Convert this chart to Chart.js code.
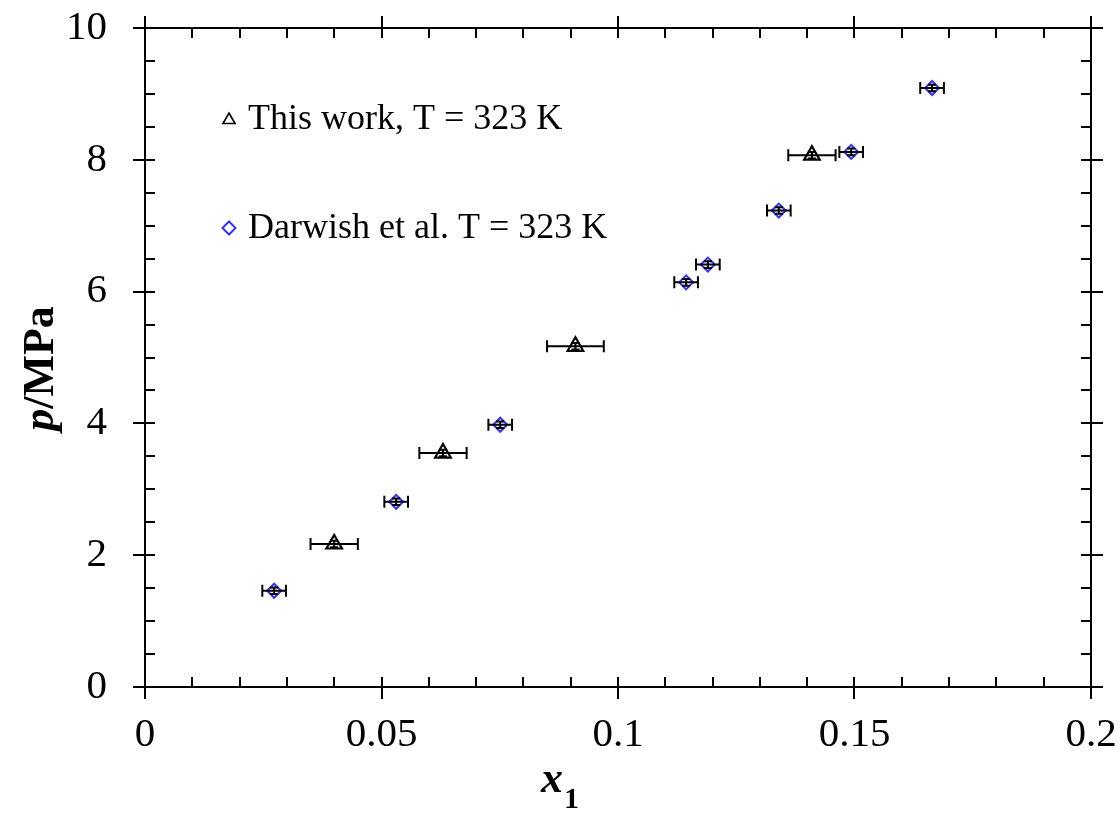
<!DOCTYPE html>
<html>
<head>
<meta charset="utf-8">
<title>p vs x1</title>
<script src="https://cdn.jsdelivr.net/npm/chart.js@4.4.1/dist/chart.umd.min.js"></script>
<style>
  body { margin: 0; background: #ffffff; }
  #chart-div { width: 1120px; height: 816px; }
</style>
</head>
<body>
<div id="chart-div"><canvas id="myChart" width="1120" height="816"></canvas></div>
<script>
// Data
const thisWorkX = [0.0400, 0.0630, 0.0910, 0.1410]
const thisWorkP = [2.17, 3.55, 5.17, 8.07]
const thisWorkXErr = [0.005, 0.005, 0.006, 0.005]
const thisWorkPErr = [0.05, 0.05, 0.05, 0.05]

const darwishX = [0.0273, 0.0531, 0.0751, 0.1144, 0.1190, 0.1340, 0.1493, 0.1664]
const darwishP = [1.46, 2.81, 3.98, 6.14, 6.41, 7.23, 8.12, 9.09]
const darwishXErr = [0.0025, 0.0025, 0.0025, 0.0025, 0.0025, 0.0025, 0.0025, 0.0025]
const darwishPErr = [0.05, 0.05, 0.05, 0.05, 0.05, 0.05, 0.05, 0.05]

const legendLabels = ["This work, T = 323 K", "Darwish et al. T = 323 K"]
const xTickLabels = ["0", "0.05", "0.1", "0.15", "0.2"]
const yTickLabels = ["0", "2", "4", "6", "8", "10"]

const serif = "'Liberation Serif', 'Times New Roman', serif"
const blue = "#3333ff"

// Build point lists for the library
function toPoints(xs, ys){
    let pts = []
    for (let i=0; i<xs.length; i++){
        pts.push({x: xs[i], y: ys[i]})
    }
    return pts
}

function xLabel(v){
    let k = Math.round(v * 100)
    if (k % 5 !== 0) return ""
    return xTickLabels[k / 5]
}

function yLabel(v){
    let k = Math.round(v * 2)
    if (k % 4 !== 0) return ""
    return yTickLabels[k / 4]
}

// Frame and tick marks on all four sides
const framePlugin = {
    id: "frame",
    afterDraw(chart){
        const ctx = chart.ctx
        const a = chart.chartArea
        const xs = chart.scales.x
        const ys = chart.scales.y
        const inLen = 10, outLen = 12

        ctx.save()
        ctx.strokeStyle = "#000"
        ctx.lineWidth = 2
        ctx.strokeRect(a.left, a.top, a.right - a.left, a.bottom - a.top)

        ctx.beginPath()
        xs.ticks.forEach(function(t){
            let px = Math.round(xs.getPixelForValue(t.value))
            let major = xLabel(t.value) !== ""
            ctx.moveTo(px, a.bottom + (major ? outLen : 0))
            ctx.lineTo(px, a.bottom - inLen)
            ctx.moveTo(px, a.top - (major ? outLen : 0))
            ctx.lineTo(px, a.top + inLen)
        })
        ys.ticks.forEach(function(t){
            let py = Math.round(ys.getPixelForValue(t.value))
            let major = yLabel(t.value) !== ""
            ctx.moveTo(a.left - (major ? outLen : 0), py)
            ctx.lineTo(a.left + inLen, py)
            ctx.moveTo(a.right + (major ? outLen : 0), py)
            ctx.lineTo(a.right - inLen, py)
        })
        ctx.stroke()

        // Axis titles
        ctx.fillStyle = "#000"
        ctx.textBaseline = "alphabetic"
        ctx.save()
        ctx.translate(53, (a.top + a.bottom) / 2 + 11)
        ctx.rotate(-Math.PI / 2)
        ctx.font = "italic bold 44px " + serif
        let w1 = ctx.measureText("p").width
        ctx.font = "bold 44px " + serif
        let w2 = ctx.measureText("/MPa").width
        let start = -(w1 + w2) / 2
        ctx.font = "italic bold 44px " + serif
        ctx.fillText("p", start, 0)
        ctx.font = "bold 44px " + serif
        ctx.fillText("/MPa", start + w1, 0)
        ctx.restore()

        ctx.font = "italic bold 44px " + serif
        ctx.textAlign = "left"
        let xw = ctx.measureText("x").width
        ctx.fillText("x", 541, 792)
        ctx.font = "bold 30px " + serif
        ctx.fillText("1", 541 + xw + 1, 808)

        // Legend inside the plot
        let lx = a.left + 84
        let rows = [a.top + 92, a.top + 200]
        ctx.font = "36px " + serif
        ctx.textAlign = "left"
        ctx.fillText(legendLabels[0], lx + 19, rows[0] + 9)
        ctx.fillText(legendLabels[1], lx + 19, rows[1] + 10)

        // open legend symbols
        ctx.fillStyle = "rgba(0,0,0,0)"
        ctx.lineWidth = 1.6
        ctx.strokeStyle = "#000"
        Chart.helpers.drawPoint(ctx, {pointStyle: "triangle", radius: 7, rotation: 0, borderWidth: 1.6}, lx, rows[0])
        ctx.strokeStyle = blue
        ctx.lineWidth = 2
        Chart.helpers.drawPoint(ctx, {pointStyle: "rectRot", radius: 6.5, rotation: 0, borderWidth: 2}, lx, rows[1])
        ctx.restore()
    }
}

// Error bars, drawn on top of the markers
const errorBarPlugin = {
    id: "errorBars",
    afterDatasetsDraw(chart){
        const ctx = chart.ctx
        const xs = chart.scales.x
        const ys = chart.scales.y
        const sets = [
            [thisWorkX, thisWorkP, thisWorkXErr, thisWorkPErr],
            [darwishX, darwishP, darwishXErr, darwishPErr]
        ]
        ctx.save()
        ctx.strokeStyle = "#000"
        ctx.lineWidth = 2
        ctx.beginPath()
        sets.forEach(function(s){
            for (let i=0; i<s[0].length; i++){
                let cx = xs.getPixelForValue(s[0][i])
                let cy = ys.getPixelForValue(s[1][i])
                let x0 = xs.getPixelForValue(s[0][i] - s[2][i])
                let x1 = xs.getPixelForValue(s[0][i] + s[2][i])
                let y0 = ys.getPixelForValue(s[1][i] - s[3][i])
                let y1 = ys.getPixelForValue(s[1][i] + s[3][i])
                // horizontal bar with caps
                ctx.moveTo(x0, cy); ctx.lineTo(x1, cy)
                ctx.moveTo(x0, cy - 6); ctx.lineTo(x0, cy + 6)
                ctx.moveTo(x1, cy - 6); ctx.lineTo(x1, cy + 6)
                // vertical bar with caps
                ctx.moveTo(cx, y0); ctx.lineTo(cx, y1)
                ctx.moveTo(cx - 4, y0); ctx.lineTo(cx + 4, y0)
                ctx.moveTo(cx - 4, y1); ctx.lineTo(cx + 4, y1)
            }
        })
        ctx.stroke()
        ctx.restore()
    }
}

const data = {
    datasets: [
        {
            label: legendLabels[0],
            data: toPoints(thisWorkX, thisWorkP),
            pointStyle: "triangle",
            pointRadius: 9,
            borderColor: "#000",
            backgroundColor: "rgba(0,0,0,0)",
            borderWidth: 2.2,
            showLine: false
        },
        {
            label: legendLabels[1],
            data: toPoints(darwishX, darwishP),
            pointStyle: "rectRot",
            pointRadius: 7,
            borderColor: blue,
            backgroundColor: "rgba(0,0,0,0)",
            borderWidth: 2,
            showLine: false
        }
    ]
}

const config = {
    type: "scatter",
    data: data,
    options: {
        responsive: false,
        animation: false,
        devicePixelRatio: 1,
        layout: { padding: { top: 28, right: 29, left: 0, bottom: 0 } },
        plugins: {
            legend: { display: false },
            tooltip: { enabled: false }
        },
        scales: {
            x: {
                type: "linear",
                min: 0,
                max: 0.2,
                grid: { display: false, drawTicks: false },
                border: { display: false },
                afterFit: function(scale){
                    scale.height = 129
                    scale.paddingLeft = 0
                    scale.paddingRight = 0
                },
                ticks: {
                    stepSize: 0.01,
                    autoSkip: false,
                    maxRotation: 0,
                    padding: 24,
                    color: "#000",
                    font: { family: serif, size: 41 },
                    callback: function(v){ return xLabel(v) }
                }
            },
            y: {
                type: "linear",
                min: 0,
                max: 10,
                grid: { display: false, drawTicks: false },
                border: { display: false },
                afterFit: function(scale){
                    scale.width = 145
                    scale.paddingTop = 0
                    scale.paddingBottom = 0
                },
                ticks: {
                    stepSize: 0.5,
                    autoSkip: false,
                    padding: 38,
                    color: "#000",
                    font: { family: serif, size: 41 },
                    callback: function(v){ return yLabel(v) }
                }
            }
        }
    },
    plugins: [errorBarPlugin, framePlugin]
}

// Main
document.addEventListener("DOMContentLoaded", function(){
    const myChart = new Chart(document.getElementById("myChart"), config)
})
</script>
</body>
</html>
